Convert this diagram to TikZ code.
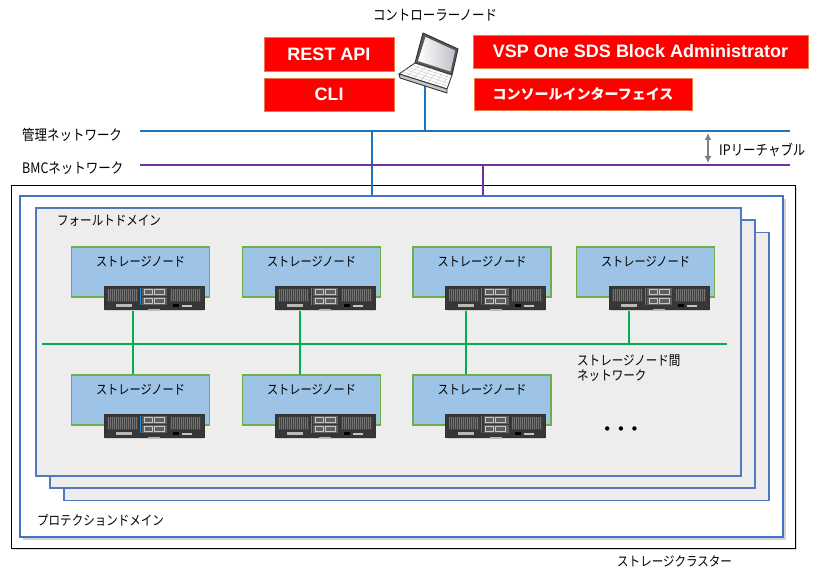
\documentclass[tikz,border=0pt]{standalone}
\usepackage{fontspec}
\setmainfont{Noto Sans CJK JP}[FakeStretch=0.86]
\newfontfamily\jpfont{Noto Sans CJK JP}
\newfontfamily\latinfont{Liberation Sans}
\newfontfamily\symfont{DejaVu Sans}
\usetikzlibrary{shadows,arrows.meta,calc}

\definecolor{netblue}{RGB}{30,115,190}
\definecolor{netpurple}{RGB}{112,48,160}
\definecolor{netgreen}{RGB}{0,176,80}
\definecolor{boxred}{RGB}{255,0,0}
\definecolor{boxredline}{RGB}{240,120,70}
\definecolor{nodefill}{RGB}{157,195,230}
\definecolor{nodeline}{RGB}{112,173,71}
\definecolor{fdfill}{RGB}{237,237,237}
\definecolor{fdline}{RGB}{84,120,190}
\definecolor{pdline}{RGB}{68,114,196}
\definecolor{arrowgray}{RGB}{127,127,127}
\definecolor{srvbody}{RGB}{55,55,55}
\definecolor{srvbay}{RGB}{95,95,95}
\definecolor{srvblue}{RGB}{40,140,210}

\tikzset{
  lbl/.style={inner sep=0, font=\fontsize{14.5}{16}\selectfont},
  smalllbl/.style={inner sep=0, font=\fontsize{13.4}{15}\selectfont},
  snlabel/.style={inner sep=0, font=\fontsize{13}{15}\selectfont},
  redbox/.style={draw=boxredline, fill=boxred, line width=0.8, text=white, inner sep=0,
    font=\latinfont\bfseries\fontsize{18}{20}\selectfont},
  redboxjp/.style={redbox, font=\jpfont\bfseries\fontsize{14}{16}\selectfont},
  netline/.style={line width=2.5},
  greenline/.style={draw=netgreen, line width=2.5},
  fdbox/.style={draw=fdline, fill=fdfill, line width=1.1, minimum width=705, minimum height=268, inner sep=0},
  snode/.style={draw=nodeline, fill=nodefill, line width=1.2, minimum width=138, minimum height=50, inner sep=0,
    label={[snlabel, anchor=north, yshift=-9.5pt]north:ストレージノード}},
  server/.pic={
    \fill[gray!35] (-48,11.5) rectangle (50,13.5);
    \fill[srvbody] (-50,-11.5) rectangle (50,11.5);
    \draw[black!80, line width=0.6] (-50,-11.5) rectangle (50,11.5);
    \fill[black!75] (-47,-9) rectangle (-16,4);
    \fill[black!75] (16,-9) rectangle (47,4);
    \foreach \i in {-46,-44,...,-18} \draw[black!55, line width=0.4] (\i,-8.5) -- (\i,3.5);
    \foreach \i in {17,19,...,45} \draw[black!55, line width=0.4] (\i,-8.5) -- (\i,3.5);
    \fill[srvbay] (-12,-9.5) rectangle (13,-1.5);
    \fill[srvbay] (-12,-0.5) rectangle (13,7);
    \draw[gray!45, line width=0.5] (-10,-8) rectangle (-2,-3) (0,-8) rectangle (10,-3);
    \draw[gray!45, line width=0.5] (-10,1) rectangle (-2,5.5) (0,1) rectangle (10,5.5);
    \draw[srvblue, line width=0.9] (-14,-9.5) -- (-14,7);
    \fill[gray!55] (-38,6.5) rectangle (-22,9);
    \fill[black] (19,6) rectangle (25,9.5);
    \fill[gray!45] (28,7) rectangle (38,9);
    \fill[gray!55] (-6,11.5) rectangle (6,13);
  }
}

\begin{document}
\begin{tikzpicture}[x=1pt, y=-1pt]
\useasboundingbox (0,0) rectangle (817,572);

% storage cluster and protection domain frames
\node[draw=black, line width=1, fill=white, minimum width=784, minimum height=362, inner sep=0,
      drop shadow={shadow xshift=2pt, shadow yshift=-2pt, opacity=0.3}] (cluster) at (403,367) {};
\node[draw=pdline, line width=2.6, fill=white, minimum width=763, minimum height=341, inner sep=0,
      drop shadow={shadow xshift=3pt, shadow yshift=-3pt, opacity=0.35}] (pd) at (401.5,366.5) {};

% stacked fault domains
\node[fdbox] (fd3) at (416.5,366.5) {};
\node[fdbox] (fd2) at (402.5,354) {};
\node[fdbox] (fd1) at (388.5,342) {};

% labels of the frames
\node[smalllbl, anchor=west] (fdlbl) at (57,221) {フォールトドメイン};
\node[smalllbl, anchor=west] (pdlbl) at (37,520) {プロテクションドメイン};
\node[smalllbl, anchor=west] (cllbl) at (617,561) {ストレージクラスター};

% management and BMC networks
\coordinate (mgmtL) at (140,131);
\coordinate (mgmtR) at (790,131);
\coordinate (bmcL) at (140,165);
\coordinate (bmcR) at (790,165);
\coordinate (mgmtTap) at (372,131);
\coordinate (bmcTap) at (483,165);
\coordinate (lapPort) at (425,86);
\coordinate (lapTap) at (425,131);
\draw[netline, netblue] (mgmtTap) -- (mgmtTap |- pd.north);
\draw[netline, netpurple] (bmcTap) -- (bmcTap |- pd.north);
\draw[netline, netblue] (lapPort) -- (lapTap);
\draw[netline, netblue] (mgmtL) -- (mgmtR);
\draw[netline, netpurple] (bmcL) -- (bmcR);
\node[lbl, anchor=west] (mgmtlbl) at (22,135) {管理ネットワーク};
\node[lbl, anchor=west] (bmclbl) at (22,168) {BMCネットワーク};

% IP reachability between the two networks
\coordinate (ipTop) at (708,133);
\coordinate (ipBot) at (708,163);
\draw[arrowgray, line width=2, {Latex[length=7pt,width=7pt]}-{Latex[length=7pt,width=7pt]}] (ipTop) -- (ipBot);
\node[lbl, anchor=west] (iplbl) at (719,150) {IPリーチャブル};

% controller node (laptop)
\node[lbl] (ctrl) at (435,15) {コントローラーノード};
\coordinate (lsA) at (423,33);
\coordinate (lsB) at (458,49);
\coordinate (lsC) at (452,75);
\coordinate (lsD) at (415,63);
\coordinate (lkF) at (447,89);
\coordinate (lkE) at (399,74);
\draw[black!80, line width=1, fill=black!65, line join=round] (lsA) -- (lsB) -- (lsC) -- (lsD) -- cycle;
\shade[left color=white, right color=blue!10!gray!45] (425.5,37) -- (455,50.5) -- (450.5,71.5) -- (418,61) -- cycle;
\draw[black!80, line width=0.9, fill=white, line join=round] (lsD) -- (lsC) -- (lkF) -- (lkE) -- cycle;
\foreach \t in {0.15,0.3,0.45,0.6,0.75,0.9}
  \draw[gray!45, line width=0.4] ($(lsD)!\t!(lsC)$) -- ($(lkE)!\t!(lkF)$);
\foreach \t in {0.2,0.4,0.6,0.8}
  \draw[gray!45, line width=0.4] ($(lsD)!\t!(lkE)$) -- ($(lsC)!\t!(lkF)$);
\draw[black!80, line width=0.9, fill=gray!45, line join=round] (lkE) -- (lkF) -- ($(lkF)+(0,4)$) -- ($(lkE)+(1,4)$) -- cycle;

% interfaces of the controller node
\node[redbox, minimum width=130, minimum height=34] (rest) at (329,54) {REST API};
\node[redbox, minimum width=130, minimum height=33] (cli) at (329,94.5) {CLI};
\node[redbox, minimum width=335, minimum height=33] (vsp) at (640.5,51.5) {VSP One SDS Block Administrator};
\node[redboxjp, minimum width=218, minimum height=32] (console) at (583,94) {コンソールインターフェイス};

% storage nodes
\node[snode] (sn1) at (140.5,272) {};
\node[snode] (sn2) at (311.5,272) {};
\node[snode] (sn3) at (482,272) {};
\node[snode] (sn4) at (645.5,272) {};
\node[snode] (sn5) at (140.5,400) {};
\node[snode] (sn6) at (311.5,400) {};
\node[snode] (sn7) at (482,400) {};

% inter-node network
\coordinate (busL) at (42,344);
\coordinate (busR) at (727,344);
\foreach \n/\x in {1/133,2/300,3/466,4/629}{
  \coordinate (up\n) at (\x,308);
  \coordinate (bus\n) at (\x,344);
  \draw[greenline] (up\n) -- (bus\n);
}
\foreach \n/\m in {1/5,2/6,3/7}
  \draw[greenline] (bus\n) -- (bus\n |- sn\m.north);
\draw[greenline] (busL) -- (busR);
\node[smalllbl, anchor=north west, align=left] (buslbl) at (577,355) {ストレージノード間\\ネットワーク};

% server hardware under each node
\foreach \i in {1,...,7}
  \pic at ([xshift=-56pt]sn\i.south east) {server};

% more nodes
\node[inner sep=0, font=\symfont\fontsize{15}{16}\selectfont] (more) at (621,431) {• • •};
\end{tikzpicture}
\end{document}
